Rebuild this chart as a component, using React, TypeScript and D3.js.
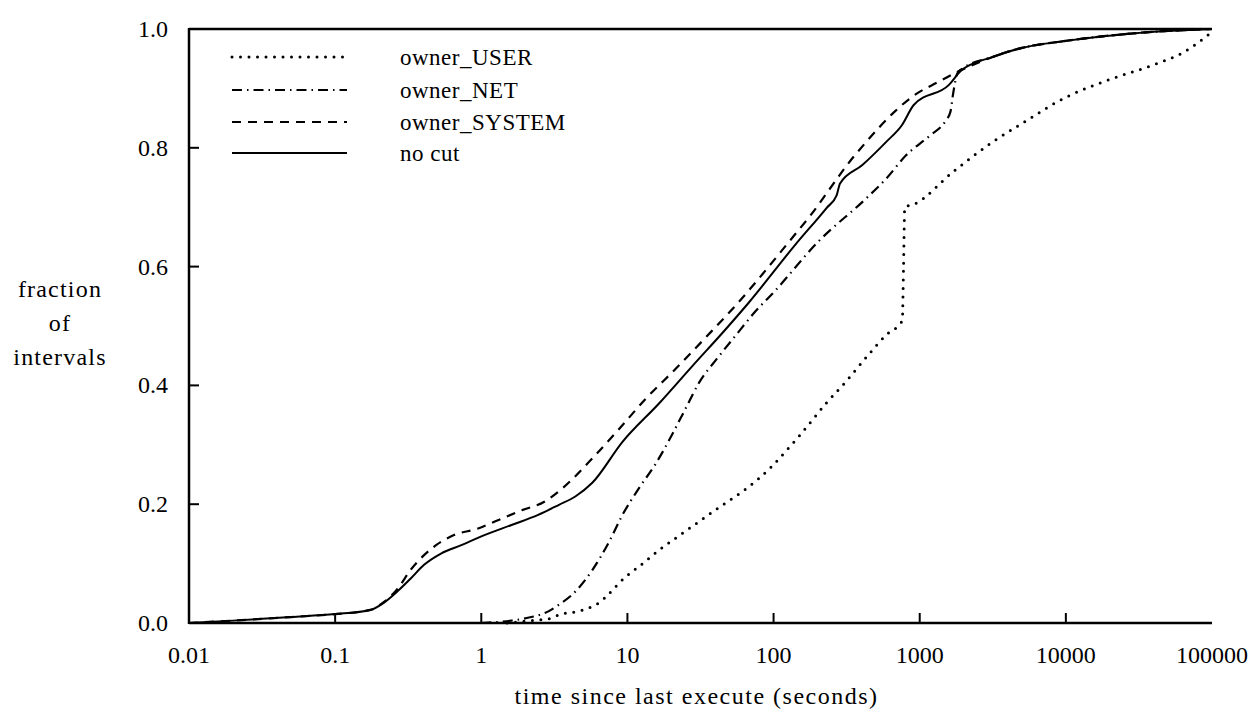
import React from "react";
import * as d3 from "d3";

// ---- data (seconds, fraction of intervals) ----
const userX = [1.5, 2, 3, 3.4, 4.7, 6.2, 9.75, 12.7, 16.5, 21.4, 31, 41.4, 60, 80, 98.6, 122, 150, 229, 314, 430, 589, 760, 775, 790, 912, 1700, 3162, 4786, 10000, 20000, 40000, 63000, 100000];
const userY = [0, 0.003, 0.008, 0.014, 0.02, 0.032, 0.078, 0.1, 0.123, 0.143, 0.171, 0.193, 0.22, 0.244, 0.265, 0.29, 0.315, 0.37, 0.407, 0.447, 0.485, 0.509, 0.6, 0.7, 0.705, 0.76, 0.81, 0.838, 0.885, 0.915, 0.94, 0.96, 0.995];

const netX = [1, 1.6, 2.2, 2.9, 3.4, 4.2, 5.75, 7.5, 9.25, 12, 15.6, 19.8, 25, 31, 41, 55, 76, 97, 204, 431, 589, 803, 1167, 1500, 1620, 1700, 1807, 1923, 3162, 4786, 10000, 30000, 100000];
const netY = [0, 0.004, 0.01, 0.02, 0.031, 0.048, 0.089, 0.137, 0.182, 0.227, 0.268, 0.313, 0.361, 0.405, 0.445, 0.484, 0.526, 0.553, 0.643, 0.715, 0.748, 0.787, 0.82, 0.845, 0.86, 0.894, 0.925, 0.932, 0.953, 0.967, 0.98, 0.993, 1];

const systemX = [0.01, 0.02, 0.05, 0.1, 0.174, 0.215, 0.266, 0.33, 0.49, 0.65, 0.95, 1.3, 1.9, 2.7, 3.6, 5.75, 8.8, 13.4, 21.4, 34.4, 52.5, 140, 180, 263, 316, 431, 668, 912, 1318, 1820, 3162, 4786, 10000, 30000, 100000];
const systemY = [0, 0.004, 0.01, 0.015, 0.022, 0.035, 0.057, 0.09, 0.131, 0.148, 0.159, 0.173, 0.19, 0.204, 0.227, 0.277, 0.327, 0.378, 0.428, 0.481, 0.529, 0.654, 0.687, 0.743, 0.77, 0.81, 0.86, 0.888, 0.91, 0.928, 0.953, 0.967, 0.98, 0.993, 1];

const noCutX = [0.01, 0.02, 0.05, 0.1, 0.174, 0.215, 0.266, 0.329, 0.406, 0.53, 0.73, 1.05, 1.61, 2.45, 3.4, 4.4, 5.75, 9.25, 16.5, 27.9, 47.2, 68, 141, 231, 270, 285, 405, 590, 755, 910, 1585, 1923, 3162, 4786, 10000, 30000, 100000];
const noCutY = [0, 0.004, 0.01, 0.015, 0.022, 0.034, 0.053, 0.075, 0.098, 0.117, 0.131, 0.148, 0.165, 0.182, 0.199, 0.213, 0.236, 0.305, 0.37, 0.433, 0.495, 0.54, 0.637, 0.699, 0.72, 0.74, 0.771, 0.81, 0.838, 0.872, 0.906, 0.93, 0.953, 0.967, 0.98, 0.993, 1];

const seriesNames = ["owner_USER", "owner_NET", "owner_SYSTEM", "no cut"];
const xTickValues = [0.01, 0.1, 1, 10, 100, 1000, 10000, 100000];
const xTickLabels = ["0.01", "0.1", "1", "10", "100", "1000", "10000", "100000"];
const yTickValues = [0, 0.2, 0.4, 0.6, 0.8, 1.0];
const yTickLabels = ["0.0", "0.2", "0.4", "0.6", "0.8", "1.0"];
const yAxisTitle = ["fraction", "of", "intervals"];
const xAxisTitle = "time since last execute (seconds)";

const W = 1254;
const H = 711;
const L = 189, R = 1212, T = 29, B = 623;

const FONT = "'Liberation Serif', 'DejaVu Serif', serif";

const styles = [
  { dash: "0 8.5", cap: "round", width: 3 },
  { dash: "10 5 1.5 5", cap: "butt", width: 2.2 },
  { dash: "9 7", cap: "butt", width: 2.2 },
  { dash: null, cap: "butt", width: 2 },
];

export default function App() {
  const x = d3.scaleLog().domain([0.01, 100000]).range([L, R]);
  const y = d3.scaleLinear().domain([0, 1]).range([B, T]);

  const seriesData = [
    userX.map((v, i) => [v, userY[i]] as [number, number]),
    netX.map((v, i) => [v, netY[i]] as [number, number]),
    systemX.map((v, i) => [v, systemY[i]] as [number, number]),
    noCutX.map((v, i) => [v, noCutY[i]] as [number, number]),
  ];

  const line = d3
    .line<[number, number]>()
    .x((d) => x(d[0]))
    .y((d) => y(d[1]))
    .curve(d3.curveMonotoneX);

  const legendY = [57, 90, 122, 153];

  return (
    <svg
      width={W}
      height={H}
      style={{ position: "absolute", left: 0, top: 0, background: "#fff" }}
      fontFamily={FONT}
    >
      <rect x={0} y={0} width={W} height={H} fill="#fff" />
      {/* frame */}
      <line x1={L} y1={T} x2={R} y2={T} stroke="#000" strokeWidth={2.5} />
      <line x1={L} y1={B} x2={R} y2={B} stroke="#000" strokeWidth={2.5} />
      <line x1={L} y1={T - 1} x2={L} y2={B + 1} stroke="#000" strokeWidth={2.5} />

      {/* y ticks */}
      {yTickValues.map((v, i) => (
        <g key={"yt" + i}>
          {v > 0 && v < 1 && (
            <line x1={L} x2={L + 10} y1={y(v)} y2={y(v)} stroke="#000" strokeWidth={2} />
          )}
          <text x={168} y={y(v) + 8} textAnchor="end" fontSize={24} fill="#000">
            {yTickLabels[i]}
          </text>
        </g>
      ))}

      {/* x ticks */}
      {xTickValues.map((v, i) => (
        <g key={"xt" + i}>
          {i > 0 && i < xTickValues.length - 1 && (
            <line x1={x(v)} x2={x(v)} y1={B} y2={B - 10} stroke="#000" strokeWidth={2} />
          )}
          <text x={x(v)} y={663} textAnchor="middle" fontSize={24} fill="#000">
            {xTickLabels[i]}
          </text>
        </g>
      ))}

      {/* axis titles */}
      <text x={(L + R) / 2 - 4} y={704} textAnchor="middle" fontSize={24} letterSpacing={1.5} fill="#000">
        {xAxisTitle}
      </text>
      {yAxisTitle.map((t, i) => (
        <text key={"yl" + i} x={60} y={297 + i * 34} textAnchor="middle" fontSize={24} letterSpacing={1.2} fill="#000">
          {t}
        </text>
      ))}

      {/* series */}
      {seriesData.map((d, i) => (
        <path
          key={"s" + i}
          d={line(d) || ""}
          fill="none"
          stroke="#000"
          strokeWidth={styles[i].width}
          strokeDasharray={styles[i].dash || undefined}
          strokeLinecap={styles[i].cap as any}
        />
      ))}

      {/* legend */}
      {seriesNames.map((name, i) => (
        <g key={"lg" + i}>
          <line
            x1={232}
            x2={347}
            y1={legendY[i]}
            y2={legendY[i]}
            stroke="#000"
            strokeWidth={styles[i].width}
            strokeDasharray={styles[i].dash || undefined}
            strokeLinecap={styles[i].cap as any}
          />
          <text x={400} y={legendY[i] + 8} fontSize={23} letterSpacing={0.5} fill="#000">
            {name}
          </text>
        </g>
      ))}
    </svg>
  );
}
